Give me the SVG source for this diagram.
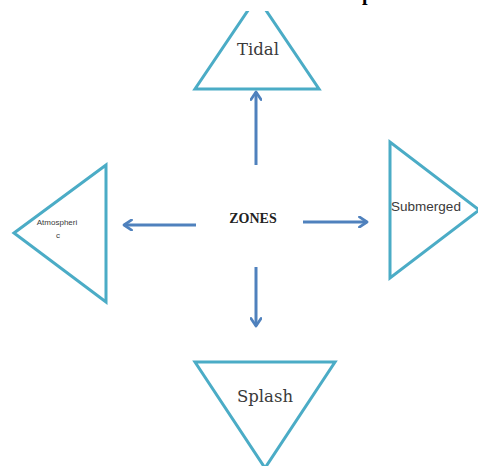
<svg xmlns="http://www.w3.org/2000/svg" width="478" height="466" viewBox="0 0 478 466">
  <style>
    .tri { fill: #ffffff; stroke: #4bacc6; stroke-width: 3; stroke-linejoin: miter; }
    .conn { stroke: #4f81bd; stroke-width: 3; fill: none; marker-end: url(#chev); }
    .serif { font-family: "DejaVu Serif", "Liberation Serif", serif; fill: #3a3a3a; }
    .sans { font-family: "Liberation Sans", "DejaVu Sans", sans-serif; fill: #3a3a3a; }
  </style>
  <defs>
    <marker id="chev" viewBox="0 0 10 10" refX="8" refY="5" markerWidth="4.2" markerHeight="4.2" orient="auto" markerUnits="strokeWidth">
      <polyline points="2,1 8,5 2,9" fill="none" stroke="#4f81bd" stroke-width="2.2" stroke-linecap="round" stroke-linejoin="round"/>
    </marker>
  </defs>
  <rect width="478" height="466" fill="#ffffff"/>

  <g id="tidal">
    <polygon class="tri" points="257,-3 195,89 319,89"/>
    <text class="serif" x="258" y="55" font-size="16.5" text-anchor="middle">Tidal</text>
  </g>

  <!-- heading band above the frame: white backing hides the tip of the top triangle -->
  <rect x="200" y="-5" width="120" height="16" fill="#ffffff"/>
  <text x="362" y="-0.5" font-family="Liberation Serif, serif" font-weight="bold" font-size="20" fill="#000000">p</text>

  <g id="atmospheric">
    <polygon class="tri" points="14,233 106,165 106,302"/>
    <text class="sans" x="57" y="225" font-size="8" text-anchor="middle">Atmospheri</text>
    <text class="sans" x="58" y="238" font-size="8" text-anchor="middle">c</text>
  </g>

  <g id="submerged">
    <polygon class="tri" points="390,142 390,278 479,210"/>
    <text class="sans" x="426" y="211" font-size="13.5" text-anchor="middle">Submerged</text>
  </g>

  <g id="splash">
    <polygon class="tri" points="195,362 335,362 265,468"/>
    <text class="serif" x="265" y="402" font-size="16.5" text-anchor="middle">Splash</text>
  </g>

  <g id="zones">
    <text x="253" y="223" font-family="Liberation Serif, serif" font-weight="bold" font-size="14" fill="#222222" text-anchor="middle">ZONES</text>
  </g>

  <g id="connectors">
    <line class="conn" x1="256" y1="165" x2="256" y2="92"/>
    <line class="conn" x1="256" y1="267" x2="256" y2="326"/>
    <line class="conn" x1="196" y1="225" x2="124" y2="225"/>
    <line class="conn" x1="303" y1="222" x2="367" y2="222"/>
  </g>
</svg>
